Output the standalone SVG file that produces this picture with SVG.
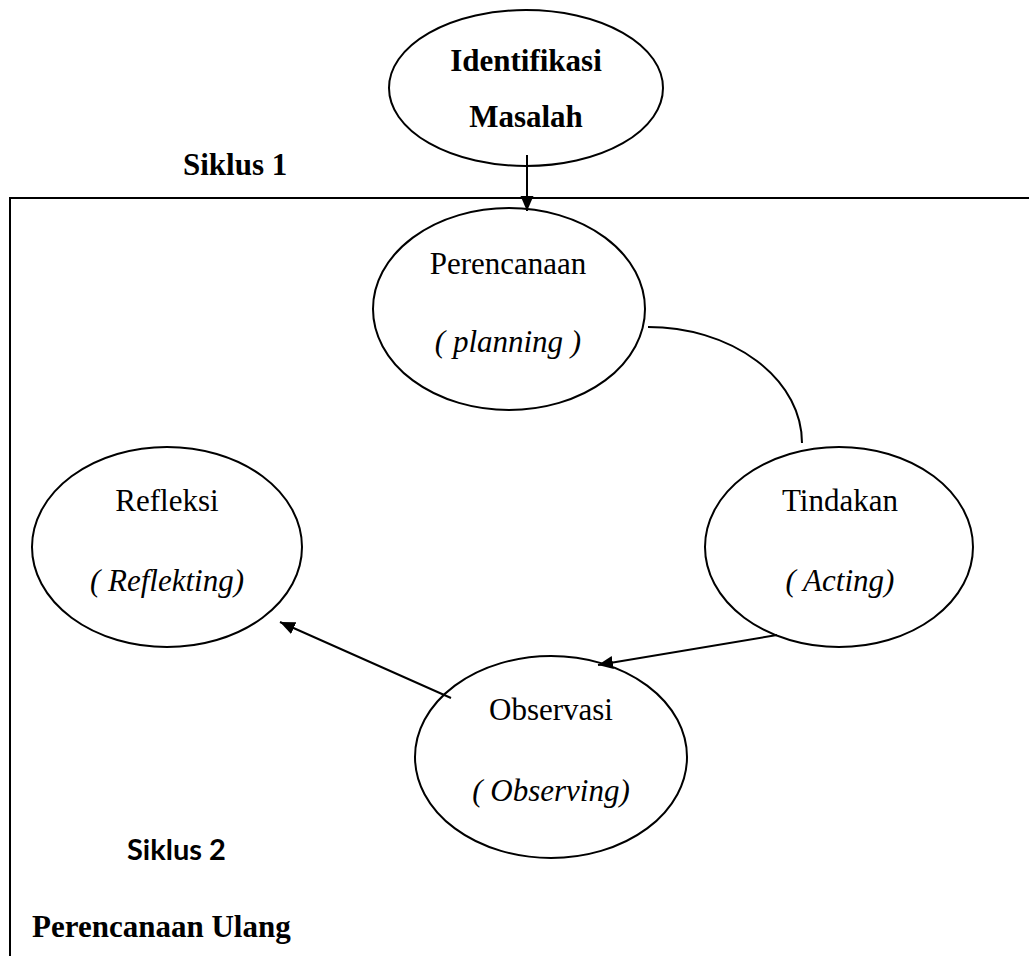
<svg xmlns="http://www.w3.org/2000/svg" width="1029" height="956" viewBox="0 0 1029 956">
<style>
.node{fill:#fff;stroke:#000;stroke-width:2}
.t{font-family:"Liberation Serif","Times New Roman",serif;font-size:31px;fill:#000;text-anchor:middle}
.b{font-weight:bold}
.i{font-style:italic}
.c{fill:none;stroke:#000;stroke-width:2}
</style>
<defs>
<marker id="ah" markerUnits="userSpaceOnUse" markerWidth="16" markerHeight="14" refX="15" refY="6.5" orient="auto">
<path d="M0,0 L15,6.5 L0,13 z" fill="#000"/>
</marker>
</defs>
<rect width="1029" height="956" fill="#fff"/>
<path class="c" d="M1029,198 L10,198 L10,956"/>
<text class="t b" x="183" y="175" style="text-anchor:start">Siklus 1</text>
<g id="identifikasi">
<ellipse class="node" cx="526" cy="88" rx="137" ry="78"/>
<text class="t b" x="526" y="71">Identifikasi</text>
<text class="t b" x="526" y="127">Masalah</text>
</g>
<g id="perencanaan">
<ellipse class="node" cx="509" cy="309" rx="136" ry="101"/>
<text class="t" x="508" y="274">Perencanaan</text>
<text class="t i" x="508" y="352">( planning )</text>
</g>
<g id="tindakan">
<ellipse class="node" cx="839" cy="547" rx="134" ry="100"/>
<text class="t" x="840" y="511">Tindakan</text>
<text class="t i" x="840" y="591">( Acting)</text>
</g>
<g id="refleksi">
<ellipse class="node" cx="167" cy="547" rx="135" ry="100"/>
<text class="t" x="167" y="511">Refleksi</text>
<text class="t i" x="167" y="591">( Reflekting)</text>
</g>
<g id="observasi">
<ellipse class="node" cx="551" cy="757" rx="136" ry="101"/>
<text class="t" x="551" y="720">Observasi</text>
<text class="t i" x="551" y="801">( Observing)</text>
</g>
<g id="connectors">
<line class="c" x1="527" y1="155" x2="527" y2="211" marker-end="url(#ah)"/>
<path class="c" d="M648,327 A154,116 0 0 1 802,443"/>
<line class="c" x1="777" y1="635" x2="598" y2="665" marker-end="url(#ah)"/>
<line class="c" x1="451" y1="698" x2="280" y2="622" marker-end="url(#ah)"/>
</g>
<text x="127" y="860" style="font-family:Lato,'Open Sans',sans-serif;font-weight:bold;font-size:29px;fill:#000">Siklus 2</text>
<text class="t b" x="32" y="937" style="text-anchor:start">Perencanaan Ulang</text>
</svg>
